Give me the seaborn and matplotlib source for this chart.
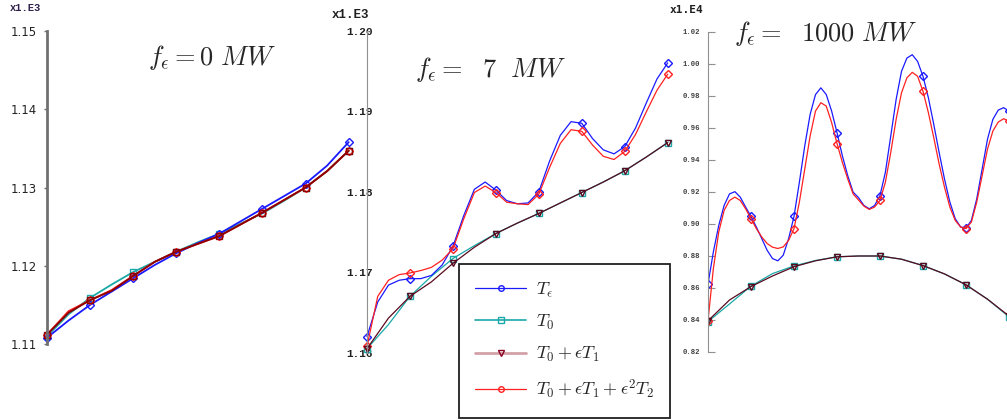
import numpy as np
import matplotlib
matplotlib.use("Agg")
import matplotlib.pyplot as plt
import seaborn as sns
from matplotlib.lines import Line2D

# ---- data ----
x_half = np.linspace(0, 7, 15)      # step 0.5
x_quarter = np.linspace(0, 7, 29)   # step 0.25
x_eighth = np.linspace(0, 7, 57)    # step 0.125

# panel 1: f_eps = 0 MW  (x1.E3)
p1_Teps = [1.1108, 1.1130, 1.1150, 1.1167, 1.1184, 1.1201, 1.1216, 1.1229,
           1.1241, 1.1257, 1.1273, 1.1289, 1.1305, 1.1328, 1.1358]
p1_T0 = [1.1110, 1.1138, 1.1159, 1.1176, 1.1192, 1.1205, 1.1218, 1.1230,
         1.1241, 1.1254, 1.1267, 1.1283, 1.1300, 1.1321, 1.1347]
p1_T01 = [1.1112, 1.1140, 1.1156, 1.1168, 1.1187, 1.1205, 1.1218, 1.1228,
          1.1238, 1.1253, 1.1268, 1.1284, 1.1300, 1.1321, 1.1347]
p1_T012 = [1.1112, 1.1142, 1.1156, 1.1169, 1.1187, 1.1205, 1.1218, 1.1228,
           1.1238, 1.1253, 1.1268, 1.1284, 1.1300, 1.1321, 1.1347]

# panel 2: f_eps = 7 MW  (x1.E3)
p2_Teps = [1.1620, 1.1663, 1.1684, 1.1690, 1.1692, 1.1692, 1.1696, 1.1709,
           1.1732, 1.1770, 1.1803, 1.1812, 1.1802, 1.1789, 1.1785, 1.1786,
           1.1800, 1.1838, 1.1870, 1.1887, 1.1885, 1.1866, 1.1852, 1.1847,
           1.1856, 1.1879, 1.1910, 1.1940, 1.1960]
p2_T012 = [1.1608, 1.1670, 1.1690, 1.1697, 1.1699, 1.1702, 1.1706, 1.1715,
           1.1729, 1.1766, 1.1799, 1.1807, 1.1799, 1.1787, 1.1785, 1.1784,
           1.1797, 1.1830, 1.1860, 1.1877, 1.1875, 1.1858, 1.1844, 1.1840,
           1.1850, 1.1871, 1.1899, 1.1926, 1.1946]
p2_T0 = [1.1605, 1.1635, 1.1670, 1.1695, 1.1717, 1.1733, 1.1748, 1.1761,
         1.1773, 1.1786, 1.1799, 1.1812, 1.1826, 1.1843, 1.1861]
p2_T01 = [1.1605, 1.1643, 1.1670, 1.1688, 1.1711, 1.1731, 1.1748, 1.1761,
          1.1773, 1.1786, 1.1799, 1.1812, 1.1826, 1.1843, 1.1861]

# panel 3: f_eps = 1000 MW  (x1.E4)
p3_Teps = [0.8625, 0.8826, 0.8991, 0.9116, 0.9188, 0.9202, 0.9168, 0.9106,
           0.9047, 0.8981, 0.8909, 0.8836, 0.8784, 0.8770, 0.8805, 0.8909,
           0.9047, 0.9261, 0.9488, 0.9685, 0.9809, 0.9851, 0.9809, 0.9706,
           0.9571, 0.9426, 0.9302, 0.9199, 0.9165, 0.9116, 0.9095, 0.9116,
           0.9178, 0.9323, 0.9550, 0.9778, 0.9954, 1.0037, 1.0058, 1.0016,
           0.9923, 0.9789, 0.9623, 0.9447, 0.9281, 0.9137, 0.9033, 0.8981,
           0.8975, 0.9022, 0.9157, 0.9343, 0.9530, 0.9654, 0.9712, 0.9727,
           0.9706]
p3_T012 = [0.8395, 0.8722, 0.8950, 0.9085, 0.9147, 0.9168, 0.9147, 0.9095,
           0.9033, 0.8971, 0.8919, 0.8878, 0.8855, 0.8847, 0.8857, 0.8898,
           0.8971, 0.9137, 0.9343, 0.9550, 0.9706, 0.9758, 0.9737, 0.9634,
           0.9503, 0.9385, 0.9281, 0.9188, 0.9150, 0.9112, 0.9091, 0.9106,
           0.9147, 0.9261, 0.9447, 0.9654, 0.9820, 0.9913, 0.9948, 0.9923,
           0.9830, 0.9696, 0.9540, 0.9375, 0.9230, 0.9106, 0.9022, 0.8981,
           0.8971, 0.9012, 0.9137, 0.9302, 0.9468, 0.9581, 0.9637, 0.9658,
           0.9643]
p3_T0 = [0.8390, 0.8500, 0.8612, 0.8690, 0.8738, 0.8772, 0.8795, 0.8800,
         0.8800, 0.8780, 0.8740, 0.8688, 0.8620, 0.8530, 0.8420]
p3_T01 = [0.8395, 0.8525, 0.8609, 0.8675, 0.8733, 0.8770, 0.8795, 0.8800,
          0.8800, 0.8780, 0.8740, 0.8688, 0.8620, 0.8530, 0.8425]

p1_ticks = [1.11, 1.12, 1.13, 1.14, 1.15]
p2_ticks = [1.16, 1.17, 1.18, 1.19, 1.20]
p3_ticks = [0.82, 0.84, 0.86, 0.88, 0.90, 0.92, 0.94, 0.96, 0.98, 1.00, 1.02]

titles = [r"$f_\epsilon = 0\ MW$", r"$f_\epsilon =\ \ 7\ \ MW$",
          r"$f_\epsilon =\ \ 1000\ MW$"]
labels = [r"$T_\epsilon$", r"$T_0$", r"$T_0 + \epsilon T_1$",
          r"$T_0 + \epsilon T_1 + \epsilon^2 T_2$"]

# ---- style ----
sns.set_style("white")
plt.rcParams["mathtext.fontset"] = "cm"
plt.rcParams["font.family"] = ["DejaVu Sans"]

c_blue = "#1a1aff"
c_teal = "#1aa8a8"
c_maroon = "#5a0a1e"
c_red = "#ff2020"

fig = plt.figure(figsize=(10.07, 4.2), dpi=100)


def series(ax, x, y, color, marker, every, lw, ms):
    sns.lineplot(x=x, y=y, ax=ax, color=color, lw=lw, marker=marker,
                 markevery=every, ms=ms, mfc="none", mec=color, mew=1.0,
                 errorbar=None, legend=False, clip_on=False,
                 solid_joinstyle="round")


def setup(ax, lo, hi, xmax):
    ax.set_facecolor("none")
    ax.set_ylim(lo, hi)
    ax.set_xlim(0, xmax)
    ax.set_xticks([])
    for s in ["top", "right", "bottom"]:
        ax.spines[s].set_visible(False)
    ax.set_xlabel("")
    ax.set_ylabel("")


# panel 1
ax1 = fig.add_axes([47 / 1007, 76 / 420, 306 / 1007, 313 / 420])
lw1 = 1.3
series(ax1, x_half, p1_T0, c_teal, "s", 2, lw1, 5)
series(ax1, x_half, p1_Teps, c_blue, "D", 2, lw1, 4)
series(ax1, x_half, p1_T012, c_red, "D", 2, lw1, 4)
series(ax1, x_half, p1_T01, "#8b0000", "s", 2, lw1, 5)
setup(ax1, 1.11, 1.15, 7.1)
ax1.spines["left"].set_color("#707070")
ax1.spines["left"].set_linewidth(2.0)
ax1.set_yticks(p1_ticks)
ax1.set_yticklabels([f"{t:.2f}" for t in p1_ticks])
ax1.tick_params(axis="y", direction="out", length=2.5, width=1, color="#707070",
                labelsize=8.5, pad=5, left=True, labelcolor="#222222")

# panel 2
ax2 = fig.add_axes([367 / 1007, 67.3 / 420, 305 / 1007, 322 / 420])
series(ax2, x_half, p2_T0, c_teal, "s", 2, 0.9, 5)
series(ax2, x_quarter, p2_Teps, c_blue, "D", 4, 0.9, 4)
series(ax2, x_quarter, p2_T012, c_red, "D", 4, 0.9, 4)
series(ax2, x_half, p2_T01, c_maroon, "v", 2, 0.9, 5)
setup(ax2, 1.16, 1.20, 7.1)
ax2.spines["left"].set_color("#909090")
ax2.spines["left"].set_linewidth(0.8)
ax2.set_yticks(p2_ticks)
ax2.set_yticklabels([f"{t:.2f}" for t in p2_ticks], family="Liberation Mono",
                    fontweight="bold")
ax2.tick_params(axis="y", length=0, labelsize=8, pad=-4.2, left=True,
                labelcolor="#202020")

# panel 3
ax3 = fig.add_axes([708 / 1007, 68 / 420, 299 / 1007, 320 / 420])
series(ax3, x_half, p3_T0, c_teal, "s", 2, 0.9, 5)
series(ax3, x_eighth, p3_Teps, c_blue, "D", 8, 0.9, 4)
series(ax3, x_eighth, p3_T012, c_red, "D", 8, 0.9, 4)
series(ax3, x_half, p3_T01, c_maroon, "v", 2, 0.9, 5)
setup(ax3, 0.82, 1.02, 299 / 43)
for ln in ax3.lines:
    ln.set_clip_on(True)
ax3.spines["left"].set_color("#909090")
ax3.spines["left"].set_linewidth(0.8)
ax3.set_yticks(p3_ticks)
ax3.set_yticklabels([f"{t:.2f}" for t in p3_ticks], family="Liberation Mono",
                    fontweight="bold")
ax3.tick_params(axis="y", direction="in", length=5, width=0.8, color="#909090",
                labelsize=5.2, pad=5.5, left=True, labelcolor="#404040")

# multiplier labels
fig.text(10 / 1007, 1 - 8 / 420, "x1.E3", family="Liberation Mono",
         fontweight="bold", fontsize=7.5, color="#30204a", va="center")
fig.text(332 / 1007, 1 - 15 / 420, "x1.E3", family="Liberation Mono",
         fontweight="bold", fontsize=9, color="#202020", va="center")
fig.text(670 / 1007, 1 - 10 / 420, "x1.E4", family="DejaVu Sans Mono",
         fontweight="bold", fontsize=8, color="#202020", va="center")

# panel titles
fig.text(212.5 / 1007, 1 - 57 / 420, titles[0], fontsize=19, ha="center", va="center")
fig.text(490.5 / 1007, 1 - 70 / 420, titles[1], fontsize=19, ha="center", va="center")
fig.text(826 / 1007, 1 - 33 / 420, titles[2], fontsize=19, ha="center", va="center")

# legend
handles = [
    Line2D([], [], color=c_blue, lw=0.9, marker="o", ms=4, mfc="none", mec=c_blue),
    Line2D([], [], color=c_teal, lw=1.2, marker="s", ms=5, mfc="none", mec=c_teal),
    Line2D([], [], color="#d4a0a8", lw=2.0, marker="v", ms=5, mfc="none", mec="#8b0020"),
    Line2D([], [], color=c_red, lw=0.9, marker="o", ms=4, mfc="none", mec=c_red),
]
leg = fig.legend(handles, labels, loc="upper left",
                 bbox_to_anchor=(459 / 1007, 1 - 264 / 420), fontsize=13,
                 frameon=True, fancybox=False, framealpha=1, edgecolor="#202020",
                 handlelength=2.8, handletextpad=0.55, labelspacing=0.75,
                 borderpad=0.9, borderaxespad=0)
leg.get_frame().set_linewidth(1.3)

fig.savefig("out.png", dpi=100)
